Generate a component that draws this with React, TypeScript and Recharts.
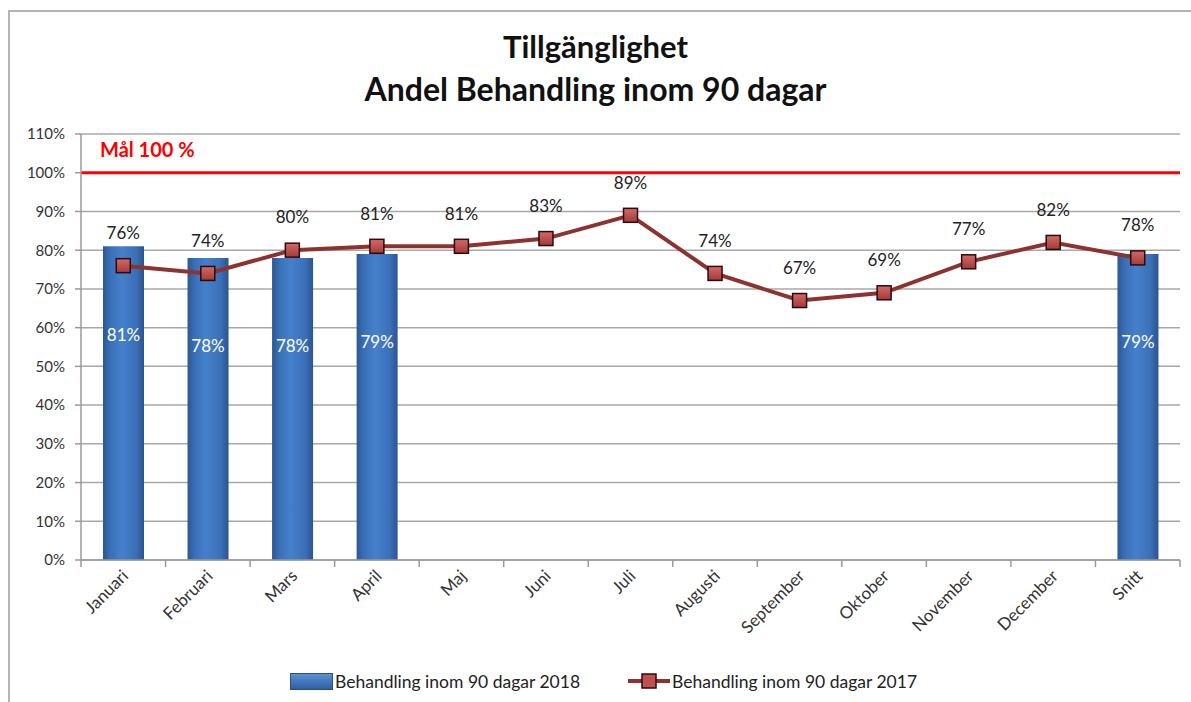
import React from 'react';
import { ComposedChart, Bar, Line, XAxis, YAxis, CartesianGrid, ReferenceLine, LabelList } from 'recharts';

const months = ['Januari', 'Februari', 'Mars', 'April', 'Maj', 'Juni', 'Juli', 'Augusti', 'September', 'Oktober', 'November', 'December', 'Snitt'];
const values2018: (number | null)[] = [81, 78, 78, 79, null, null, null, null, null, null, null, null, 79];
const values2017: number[] = [76, 74, 80, 81, 81, 83, 89, 74, 67, 69, 77, 82, 78];
const yTicks = [0, 10, 20, 30, 40, 50, 60, 70, 80, 90, 100, 110];
const targetValue = 100;
const targetLabel = 'Mål 100 %';
const titleLine1 = 'Tillgänglighet';
const titleLine2 = 'Andel Behandling inom 90 dagar';
const legend2018 = 'Behandling inom 90 dagar 2018';
const legend2017 = 'Behandling inom 90 dagar 2017';

const data = months.map((m, i) => ({ name: m, v2018: values2018[i], v2017: values2017[i] }));

const FONT = 'Lato, "Open Sans", sans-serif';
const W = 1191;
const H = 702;
const PLOT_LEFT = 81;
const PLOT_RIGHT = 1180;
const BAND = (PLOT_RIGHT - PLOT_LEFT) / months.length;

const XTick = (props: any) => {
  const { x, y, payload, index } = props;
  const half = BAND / 2;
  const tx = x + 3;
  const ty = y + 6;
  return (
    <g>
      <line x1={x - half} x2={x - half} y1={y - 8} y2={y - 1} stroke="#9a9a9a" strokeWidth={1.5} />
      {index === months.length - 1 && (
        <line x1={x + half} x2={x + half} y1={y - 8} y2={y - 1} stroke="#9a9a9a" strokeWidth={1.5} />
      )}
      <text
        x={tx}
        y={ty}
        transform={`rotate(-45 ${tx} ${ty})`}
        textAnchor="end"
        dominantBaseline="middle"
        fontFamily={FONT}
        fontSize={17}
        fill="#333"
      >
        {payload.value}
      </text>
    </g>
  );
};

const SquareDot = (props: any) => {
  const { cx, cy } = props;
  if (cx == null || cy == null) return null;
  return (
    <rect x={cx - 7} y={cy - 7} width={14} height={14} fill="url(#dotGrad)" stroke="#2a0c0c" strokeWidth={1.5} />
  );
};

const BarLabel = (props: any) => {
  const { x, y, width, value, index } = props;
  if (value == null) return null;
  const off = index === months.length - 1 ? 65 : 90;
  return (
    <text x={x + width / 2} y={y + off} textAnchor="middle" dominantBaseline="middle" fontFamily={FONT} fontSize={17} fill="#fff">
      {value}%
    </text>
  );
};

const LineLabel = (props: any) => {
  const { x, y, value } = props;
  return (
    <text x={x} y={y - 31} textAnchor="middle" dominantBaseline="middle" fontFamily={FONT} fontSize={17} fill="#222">
      {value}%
    </text>
  );
};

const TargetLabel = (props: any) => {
  const vb = props.viewBox || {};
  return (
    <text x={PLOT_LEFT + 19} y={vb.y - 21} dominantBaseline="middle" fontFamily={FONT} fontSize={20} fontWeight={700} fill="#ff0000">
      {targetLabel}
    </text>
  );
};

export default function App() {
  return (
    <div style={{ position: 'absolute', left: 0, top: 0, width: W, height: H, background: '#fff', overflow: 'hidden', fontFamily: FONT }}>
      <div style={{ position: 'absolute', left: 8, top: 10, width: W - 8, height: 2, background: '#b4b4b4' }} />
      <div style={{ position: 'absolute', left: 8, top: 10, width: 2, height: H - 10, background: '#b4b4b4' }} />
      <div style={{ position: 'absolute', left: 0, top: 26, width: W, textAlign: 'center', fontSize: 31, fontWeight: 700, color: '#111', lineHeight: '40px' }}>
        {titleLine1}
      </div>
      <div style={{ position: 'absolute', left: 0, top: 69, width: W, textAlign: 'center', fontSize: 32, fontWeight: 700, color: '#111', lineHeight: '40px' }}>
        {titleLine2}
      </div>
      <div style={{ position: 'absolute', left: 0, top: 0 }}>
        <ComposedChart
          width={W}
          height={H}
          data={data}
          margin={{ top: 134, right: W - PLOT_RIGHT, bottom: 42, left: 0 }}
        >
          <defs>
            <linearGradient id="barGrad" x1="0" y1="0" x2="1" y2="0">
              <stop offset="0%" stopColor="#2c5792" />
              <stop offset="18%" stopColor="#3a6fb6" />
              <stop offset="45%" stopColor="#4580cc" />
              <stop offset="80%" stopColor="#3b70b8" />
              <stop offset="100%" stopColor="#2b5590" />
            </linearGradient>
            <linearGradient id="dotGrad" x1="0" y1="0" x2="0" y2="1">
              <stop offset="0%" stopColor="#d26a67" />
              <stop offset="100%" stopColor="#a33a37" />
            </linearGradient>
          </defs>
          <CartesianGrid horizontal vertical={false} stroke="#a8a8a8" strokeWidth={1.5} />
          <XAxis
            dataKey="name"
            interval={0}
            height={100}
            tickLine={false}
            axisLine={{ stroke: '#9a9a9a', strokeWidth: 1.5 }}
            tick={<XTick />}
          />
          <YAxis
            width={PLOT_LEFT}
            domain={[0, 110]}
            ticks={yTicks}
            interval={0}
            tickFormatter={(v: number) => `${v}%`}
            axisLine={{ stroke: '#9a9a9a', strokeWidth: 1.5 }}
            tickLine={{ stroke: '#9a9a9a', strokeWidth: 1.5 }}
            tickSize={6}
            tickMargin={10}
            tick={{ fontFamily: FONT, fontSize: 15, fill: '#333' }}
          />
          <ReferenceLine y={targetValue} stroke="#ff0000" strokeWidth={3} label={<TargetLabel />} />
          <Bar dataKey="v2018" fill="url(#barGrad)" barSize={41} isAnimationActive={false}>
            <LabelList dataKey="v2018" content={<BarLabel />} />
          </Bar>
          <Line
            dataKey="v2017"
            stroke="#8e3230"
            strokeWidth={4}
            dot={<SquareDot />}
            activeDot={false}
            isAnimationActive={false}
          >
            <LabelList dataKey="v2017" content={<LineLabel />} />
          </Line>
        </ComposedChart>
      </div>
      <div style={{ position: 'absolute', left: 290, top: 671, height: 20, display: 'flex', alignItems: 'center', fontSize: 17.5, color: '#222', whiteSpace: 'nowrap' }}>
        <div style={{ width: 43, height: 17, background: 'linear-gradient(#5a90d6, #2f5f9e)', border: '1px solid #2a4f80', boxSizing: 'border-box' }} />
        <span style={{ marginLeft: 2 }}>{legend2018}</span>
      </div>
      <div style={{ position: 'absolute', left: 628, top: 671, height: 20, display: 'flex', alignItems: 'center', fontSize: 17.5, color: '#222', whiteSpace: 'nowrap' }}>
        <svg width={42} height={20}>
          <line x1={0} x2={42} y1={10} y2={10} stroke="#8e3230" strokeWidth={4} />
          <rect x={14} y={3} width={14} height={14} fill="#c0504d" stroke="#2a0c0c" strokeWidth={1.5} />
        </svg>
        <span style={{ marginLeft: 2 }}>{legend2017}</span>
      </div>
    </div>
  );
}
